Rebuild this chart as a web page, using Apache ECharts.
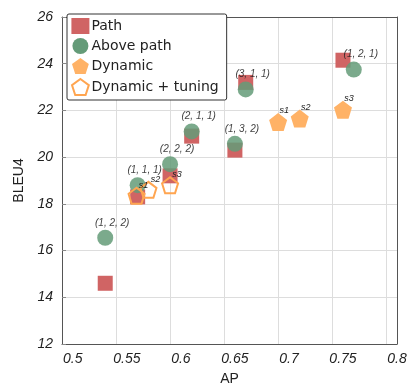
<!DOCTYPE html>
<html><head><meta charset="utf-8">
<script src="https://cdn.jsdelivr.net/npm/echarts@6/dist/echarts.min.js"></script>
<style>html,body{margin:0;padding:0;background:#fff}#c{width:412px;height:388px}</style>
</head><body><div id="c"></div>
<script>
const xTicks = [0.5, 0.55, 0.6, 0.65, 0.7, 0.75, 0.8];
const yTicks = [12, 14, 16, 18, 20, 22, 24, 26];
const pathAP = [0.53, 0.56, 0.59, 0.61, 0.65, 0.66, 0.75];
const pathBLEU = [14.6, 18.3, 19.2, 20.9, 20.3, 23.2, 24.15];
const abovePathAP = [0.53, 0.56, 0.59, 0.61, 0.65, 0.66, 0.76];
const abovePathBLEU = [16.55, 18.8, 19.7, 21.1, 20.57, 22.9, 23.75];
const aboveLabels = ['(1, 2, 2)', '(1, 1, 1)', '(2, 2, 2)', '(2, 1, 1)', '(1, 3, 2)', '(3, 1, 1)', '(1, 2, 1)'];
const dynAP = [0.69, 0.71, 0.75];
const dynBLEU = [21.5, 21.65, 22.03];
const dynLabels = ['s1', 's2', 's3'];
const tunAP = [0.559, 0.57, 0.59];
const tunBLEU = [18.35, 18.6, 18.8];
const tunLabels = ['s1', 's2', 's3'];

const pent = 'path://M0,-1 L0.951,-0.309 L0.588,0.809 L-0.588,0.809 L-0.951,-0.309 Z';
const F = 'Liberation Sans';
const red = 'rgb(208,100,100)';
const green = 'rgb(100,155,120)';
const orange = 'rgb(255,178,102)';

function pts(xs, ys, names) { return xs.map((x, i) => names ? {value: [x, ys[i]], name: names[i]} : [x, ys[i]]); }

const frameAxis = {show: true, lineStyle: {color: '#555', width: 1}};
const chart = echarts.init(document.getElementById('c'), null, {renderer: 'canvas'});
chart.setOption({
  animation: false,
  grid: {left: 62, right: 15, top: 17, bottom: 44, containLabel: false, outerBoundsMode: 'none'},
  xAxis: [{
    type: 'value', min: 0.49, max: 0.8, interval: 0.05,
    name: 'AP', nameLocation: 'middle', nameGap: 28,
    nameTextStyle: {fontFamily: F, fontSize: 14, color: '#222'},
    axisLine: frameAxis,
    axisTick: {show: false},
    splitLine: {show: true, lineStyle: {color: '#ddd'}},
    axisLabel: {fontFamily: F, fontStyle: 'italic', fontSize: 14, color: '#222', margin: 8,
      customValues: xTicks, formatter: v => String(+v.toFixed(2))}
  }, {
    type: 'value', position: 'top', min: 0.49, max: 0.8,
    axisLine: frameAxis, axisTick: {show: false}, axisLabel: {show: false}, splitLine: {show: false}
  }],
  yAxis: [{
    type: 'value', min: 12, max: 26, interval: 2,
    name: 'BLEU4', nameLocation: 'middle', nameGap: 34,
    nameTextStyle: {fontFamily: F, fontSize: 14, color: '#222'},
    axisLine: frameAxis,
    axisTick: {show: true, inside: true, length: 4, lineStyle: {color: '#888'}},
    splitLine: {show: true, lineStyle: {color: '#ddd'}},
    axisLabel: {fontFamily: F, fontStyle: 'italic', fontSize: 14, color: '#222', margin: 9,
      customValues: yTicks, formatter: v => String(v)}
  }, {
    type: 'value', position: 'right', min: 12, max: 26,
    axisLine: frameAxis, axisTick: {show: false}, axisLabel: {show: false}, splitLine: {show: false}
  }],
  legend: {
    orient: 'vertical', left: 67, top: 14,
    backgroundColor: '#fff', borderColor: '#333', borderWidth: 1, borderRadius: 2,
    padding: [4, 8, 4, 4], itemGap: 4, itemWidth: 18, itemHeight: 16,
    textStyle: {fontFamily: 'DejaVu Sans', fontSize: 14, color: '#222', padding: [0,0,0,-3]},
    data: [
      {name: 'Path', icon: 'rect', itemStyle: {opacity: 1}},
      {name: 'Above path', icon: 'circle', itemStyle: {opacity: 1}},
      {name: 'Dynamic', icon: pent, itemStyle: {opacity: 1}},
      {name: 'Dynamic + tuning', icon: pent}
    ]
  },
  series: [
    {name: 'Path', type: 'scatter', symbol: 'rect', symbolSize: 15, z: 2,
      itemStyle: {color: red, opacity: 1}, data: pts(pathAP, pathBLEU)},
    {name: 'Above path', type: 'scatter', symbol: 'circle', symbolSize: 16, z: 3,
      itemStyle: {color: green, opacity: 0.85}, data: pts(abovePathAP, abovePathBLEU, aboveLabels),
      label: {show: true, position: 'top', distance: 2, offset: [7, 0], formatter: p => p.name,
        fontFamily: F, fontStyle: 'italic', fontSize: 10, color: '#222'}},
    {name: 'Dynamic', type: 'scatter', symbol: pent, symbolSize: 18, z: 4,
      itemStyle: {color: orange, opacity: 1}, data: pts(dynAP, dynBLEU, dynLabels),
      label: {show: true, position: 'top', distance: 0, offset: [6, 2], formatter: p => p.name,
        fontFamily: F, fontStyle: 'italic', fontSize: 9, color: '#222'}},
    {name: 'Dynamic + tuning', type: 'scatter', symbol: pent, symbolSize: 16, z: 5,
      itemStyle: {color: 'rgba(255,255,255,0)', borderColor: 'rgb(255,165,80)', borderWidth: 2, opacity: 1},
      data: pts(tunAP, tunBLEU, tunLabels),
      label: {show: true, position: 'top', distance: 0, offset: [7, 3], formatter: p => p.name,
        fontFamily: F, fontStyle: 'italic', fontSize: 9, color: '#222'}}
  ]
});
</script></body></html>
